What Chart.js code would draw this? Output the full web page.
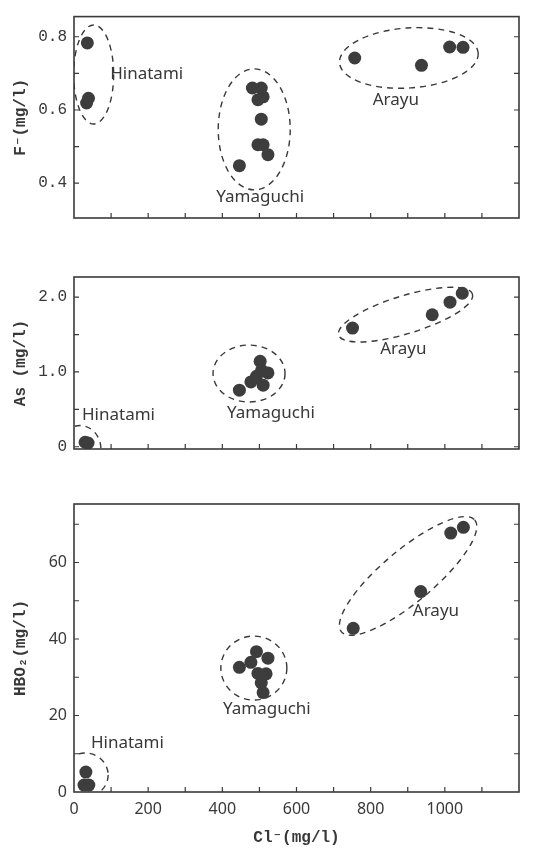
<!DOCTYPE html>
<html>
<head>
<meta charset="utf-8">
<script src="https://cdn.jsdelivr.net/npm/chart.js@4.4.0/dist/chart.umd.min.js"></script>
<style>
    body { margin: 0; background: #fff; }
    .panel { position: absolute; left: 0; width: 538px; }
</style>
</head>
<body>
<div class="panel" style="top:0;height:240px"><canvas id="fChart"></canvas></div>
<div class="panel" style="top:240px;height:230px"><canvas id="asChart"></canvas></div>
<div class="panel" style="top:470px;height:378px"><canvas id="hboChart"></canvas></div>
<script>
// shared x axis (Cl-, mg/l)
const clTicks = [0, 100, 200, 300, 400, 500, 600, 700, 800, 900, 1000, 1100];
const clLabels = [0, 200, 400, 600, 800, 1000];

// F- panel
const fTicks = [0.4, 0.5, 0.6, 0.7, 0.8];
const fLabels = [0.4, 0.6, 0.8];
const fHinatamiCl = [36, 39, 34];
const fHinatami = [0.783, 0.632, 0.619];
const fYamaguchiCl = [481, 505, 510, 496, 505, 496, 510, 523, 446];
const fYamaguchi = [0.66, 0.66, 0.636, 0.628, 0.575, 0.505, 0.505, 0.478, 0.448];
const fArayuCl = [757, 937, 1013, 1049];
const fArayu = [0.742, 0.722, 0.772, 0.771];

// As panel
const asTicks = [0, 0.5, 1.0, 1.5, 2.0];
const asLabels = [0, 1.0, 2.0];
const asHinatamiCl = [30, 38];
const asHinatami = [0.06, 0.05];
const asYamaguchiCl = [446, 477, 492, 502, 506, 523, 510];
const asYamaguchi = [0.756, 0.867, 0.943, 1.143, 1.023, 0.987, 0.823];
const asArayuCl = [751, 966, 1014, 1047];
const asArayu = [1.587, 1.765, 1.933, 2.053];

// HBO2 panel
const hboTicks = [0, 10, 20, 30, 40, 50, 60, 70];
const hboLabels = [0, 20, 40, 60];
const hboHinatamiCl = [32, 27, 40];
const hboHinatami = [5.2, 1.8, 1.8];
const hboYamaguchiCl = [446, 477, 492, 523, 496, 518, 505, 510];
const hboYamaguchi = [32.6, 33.9, 36.7, 35.0, 31.0, 30.9, 28.5, 26.0];
const hboArayuCl = [753, 935, 1016, 1050];
const hboArayu = [42.8, 52.4, 67.7, 69.2];

const groupNames = ['Hinatami', 'Yamaguchi', 'Arayu'];

const ink = '#383838';
const dotColor = '#3d3d3d';
const sansFont = { family: "'Noto Sans', sans-serif", size: 16 };
const monoFont = { family: "'Liberation Mono', 'DejaVu Sans Mono', monospace", size: 16 };
const titleFont = { family: "'Liberation Mono', 'DejaVu Sans Mono', monospace", size: 16, weight: 'bold' };

function pairs(xs, ys) {
    return xs.map((x, i) => ({ x: x, y: ys[i] }));
}

// box round the plot area plus inward tick marks
const framePlugin = {
    id: 'frame',
    afterDraw(chart) {
        const { ctx, chartArea: a } = chart;
        const xs = chart.scales.x, ys = chart.scales.y;
        ctx.save();
        ctx.strokeStyle = '#3a3a3a';
        ctx.lineWidth = 1.6;
        ctx.strokeRect(a.left, a.top, a.right - a.left, a.bottom - a.top);
        ctx.lineWidth = 1.2;
        ctx.beginPath();
        ys.ticks.forEach(t => {
            const y = ys.getPixelForValue(t.value);
            if (y >= a.bottom - 1 || y <= a.top + 1) return;
            ctx.moveTo(a.left, y); ctx.lineTo(a.left + 5, y);
            ctx.moveTo(a.right, y); ctx.lineTo(a.right - 5, y);
        });
        xs.ticks.forEach(t => {
            const x = xs.getPixelForValue(t.value);
            if (x <= a.left + 1 || x >= a.right - 1) return;
            ctx.moveTo(x, a.bottom); ctx.lineTo(x, a.bottom - 5);
        });
        ctx.stroke();
        ctx.restore();
    }
};

// dashed rings round each group and the group names
const clusterPlugin = {
    id: 'clusters',
    beforeDatasetsDraw(chart, args, opts) {
        const { ctx, chartArea: a } = chart;
        const xs = chart.scales.x, ys = chart.scales.y;
        ctx.save();
        ctx.beginPath();
        ctx.rect(a.left, a.top, a.right - a.left, a.bottom - a.top);
        ctx.clip();
        ctx.strokeStyle = ink;
        ctx.lineWidth = 1.4;
        ctx.setLineDash([6, 5]);
        (opts.rings || []).forEach(r => {
            ctx.beginPath();
            ctx.ellipse(xs.getPixelForValue(r.x), ys.getPixelForValue(r.y), r.rx, r.ry,
                (r.angle || 0) * Math.PI / 180, 0, Math.PI * 2);
            ctx.stroke();
        });
        ctx.setLineDash([]);
        ctx.fillStyle = ink;
        ctx.font = "17px 'Noto Sans', sans-serif";
        ctx.textAlign = 'center';
        ctx.textBaseline = 'middle';
        (opts.notes || []).forEach(n => {
            ctx.fillText(n.text, xs.getPixelForValue(n.x), ys.getPixelForValue(n.y));
        });
        ctx.restore();
    }
};

function makePanel(id, cfg) {
    const ctx = document.getElementById(id).getContext('2d');
    return new Chart(ctx, {
        type: 'scatter',
        data: {
            datasets: cfg.groups.map((g, i) => ({
                label: groupNames[i],
                data: pairs(g[0], g[1]),
                backgroundColor: dotColor,
                borderColor: dotColor,
                pointRadius: 6.5,
                borderWidth: 0
            }))
        },
        options: {
            responsive: true,
            maintainAspectRatio: false,
            animation: false,
            layout: { padding: { top: cfg.padTop, right: 19, left: 0, bottom: 0 } },
            plugins: {
                legend: { display: false },
                tooltip: { enabled: false },
                clusters: { rings: cfg.rings, notes: cfg.notes }
            },
            scales: {
                x: {
                    type: 'linear',
                    min: 0,
                    max: 1200,
                    afterBuildTicks: s => { s.ticks = clTicks.map(v => ({ value: v })); },
                    afterFit: s => { s.height = cfg.xHeight; },
                    grid: { display: false, drawTicks: false },
                    border: { display: false },
                    ticks: {
                        display: cfg.showX,
                        padding: 8,
                        color: ink,
                        font: sansFont,
                        maxRotation: 0,
                        autoSkip: false,
                        callback: v => clLabels.includes(v) ? String(v) : ''
                    },
                    title: {
                        display: cfg.showX,
                        text: 'Cl⁻(mg/l)',
                        color: ink,
                        font: titleFont,
                        padding: { top: -1, bottom: 0 }
                    }
                },
                y: {
                    type: 'linear',
                    min: cfg.yMin,
                    max: cfg.yMax,
                    afterBuildTicks: s => { s.ticks = cfg.yTicks.map(v => ({ value: v })); },
                    afterFit: s => { s.width = 74; },
                    grid: { display: false, drawTicks: false },
                    border: { display: false },
                    ticks: {
                        padding: 7,
                        color: ink,
                        font: cfg.yFont,
                        autoSkip: false,
                        callback: v => cfg.yLabels.includes(v) ? cfg.fmt(v) : ''
                    },
                    title: {
                        display: true,
                        text: cfg.yTitle,
                        color: ink,
                        font: titleFont,
                        padding: { top: 11, bottom: 0 }
                    }
                }
            }
        },
        plugins: [clusterPlugin, framePlugin]
    });
}

makePanel('fChart', {
    groups: [[fHinatamiCl, fHinatami], [fYamaguchiCl, fYamaguchi], [fArayuCl, fArayu]],
    yTicks: fTicks, yLabels: fLabels, fmt: v => v.toFixed(1),
    yMin: 0.305, yMax: 0.855, yFont: monoFont, yTitle: 'F⁻(mg/l)',
    padTop: 9, xHeight: 22, showX: false,
    rings: [
        { x: 53, y: 0.697, rx: 20, ry: 49.5 },
        { x: 486, y: 0.547, rx: 36, ry: 60.5 },
        { x: 903, y: 0.742, rx: 69.5, ry: 30, angle: -4 }
    ],
    notes: [
        { text: 'Hinatami', x: 196, y: 0.699 },
        { text: 'Yamaguchi', x: 502, y: 0.361 },
        { text: 'Arayu', x: 868, y: 0.628 }
    ]
});

makePanel('asChart', {
    groups: [[asHinatamiCl, asHinatami], [asYamaguchiCl, asYamaguchi], [asArayuCl, asArayu]],
    yTicks: asTicks, yLabels: asLabels, fmt: v => v === 0 ? '0' : v.toFixed(1),
    yMin: -0.03, yMax: 2.27, yFont: monoFont, yTitle: 'As (mg/l)',
    padTop: 37, xHeight: 21, showX: false,
    rings: [
        { x: 16, y: -0.03, rx: 21, ry: 23.5 },
        { x: 472, y: 0.979, rx: 36, ry: 28.5 },
        { x: 894, y: 1.767, rx: 70, ry: 19, angle: -17 }
    ],
    notes: [
        { text: 'Hinatami', x: 120, y: 0.42 },
        { text: 'Yamaguchi', x: 531, y: 0.45 },
        { text: 'Arayu', x: 888, y: 1.31 }
    ]
});

makePanel('hboChart', {
    groups: [[hboHinatamiCl, hboHinatami], [hboYamaguchiCl, hboYamaguchi], [hboArayuCl, hboArayu]],
    yTicks: hboTicks, yLabels: hboLabels, fmt: v => String(v),
    yMin: 0, yMax: 75.3, yFont: sansFont, yTitle: 'HBO₂(mg/l)',
    padTop: 34, xHeight: 56, showX: true,
    rings: [
        { x: 30, y: 4.45, rx: 23, ry: 22 },
        { x: 485, y: 32.4, rx: 33, ry: 32 },
        { x: 901, y: 56.5, rx: 87, ry: 26, angle: -40 }
    ],
    notes: [
        { text: 'Hinatami', x: 144, y: 12.9 },
        { text: 'Yamaguchi', x: 520, y: 21.6 },
        { text: 'Arayu', x: 976, y: 47.2 }
    ]
});
</script>
</body>
</html>
